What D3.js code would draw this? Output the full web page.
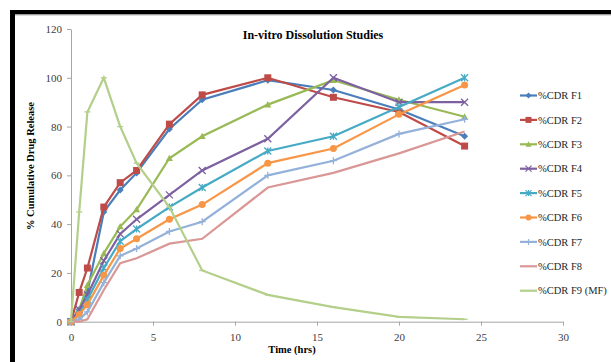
<!DOCTYPE html>
<html>
<head>
<meta charset="utf-8">
<script src="https://cdn.jsdelivr.net/npm/d3@7"></script>
<style>
body { margin: 0; background: #fff; }
svg { display: block; }
.axis path, .axis line { stroke: #a6a6a6; }
.axis text { fill: #404040; font-family: "Liberation Serif", "DejaVu Serif", serif; font-size: 11px; }
</style>
</head>
<body>
<div id="chart"></div>
<script>
var times = [0, 0.5, 1, 2, 3, 4, 6, 8, 12, 16, 20, 24];
var seriesNames = ["%CDR F1", "%CDR F2", "%CDR F3", "%CDR F4", "%CDR F5", "%CDR F6", "%CDR F7", "%CDR F8", "%CDR F9 (MF)"];
var f1 = [0, 5, 12, 45, 54, 61, 79, 91, 99, 95, 87, 76];
var f2 = [0, 12, 22, 47, 57, 62, 81, 93, 100, 92, 86, 72];
var f3 = [0, 5, 15, 28, 39, 46, 67, 76, 89, 99, 91, 84];
var f4 = [0, 5, 11, 25, 36, 42, 52, 62, 75, 100, 90, 90];
var f5 = [0, 3, 9, 22, 33, 38, 47, 55, 70, 76, 88, 100];
var f6 = [0, 3, 7, 19, 30, 34, 42, 48, 65, 71, 85, 97];
var f7 = [0, 1, 4, 16, 27, 30, 37, 41, 60, 66, 77, 83];
var f8 = [0, 0, 1, 13, 24, 26, 32, 34, 55, 61, 69, 78];
var f9 = [0, 45, 86, 100, 80, 65, 47, 21, 11, 6, 2, 1];
var xTicks = [0, 5, 10, 15, 20, 25, 30];
var yTicks = [0, 20, 40, 60, 80, 100, 120];

var colors = ["#4a7ebb", "#be4b48", "#98b954", "#7d60a0", "#46aac5", "#f79646", "#93b1d9", "#d99795", "#b3cf8a"];
var markers = ["diamond", "square", "triangle", "x", "star", "circle", "plus", "none", "dash"];
var values = [f1, f2, f3, f4, f5, f6, f7, f8, f9];

var width = 611, height = 362;
var margin = {top: 29, left: 71, right: 48, bottom: 40};

var svg = d3.select("#chart").append("svg")
    .attr("width", width)
    .attr("height", height);

// black frame (top + left)
svg.append("rect").attr("x", 10).attr("y", 10).attr("width", width - 10).attr("height", 4.5).attr("fill", "#000");
svg.append("rect").attr("x", 10).attr("y", 10).attr("width", 5).attr("height", height - 10).attr("fill", "#000");
svg.append("line").attr("x1", 15).attr("x2", width).attr("y1", 15).attr("y2", 15).attr("stroke", "#bbb");

var x = d3.scaleLinear().domain([0, 30]).range([71, 563]);
var y = d3.scaleLinear().domain([0, 120]).range([321.7, 29]);

svg.append("g")
    .attr("class", "axis")
    .attr("transform", "translate(0," + y(0) + ")")
    .call(d3.axisBottom(x).tickValues(xTicks).tickSize(4).tickPadding(8).tickSizeOuter(0));

svg.append("g")
    .attr("class", "axis")
    .attr("transform", "translate(" + x(0) + ",0)")
    .call(d3.axisLeft(y).tickValues(yTicks).tickSize(4).tickPadding(5).tickSizeOuter(0));

svg.append("text")
    .attr("x", 313)
    .attr("y", 39)
    .attr("text-anchor", "middle")
    .style("font-family", "Liberation Serif, serif")
    .style("font-weight", "bold")
    .style("font-size", "12px")
    .text("In-vitro Dissolution Studies");

svg.append("text")
    .attr("x", 292)
    .attr("y", 353)
    .attr("text-anchor", "middle")
    .style("font-family", "Liberation Serif, serif")
    .style("font-weight", "bold")
    .style("font-size", "10.5px")
    .text("Time (hrs)");

svg.append("text")
    .attr("transform", "translate(34,166) rotate(-90)")
    .attr("text-anchor", "middle")
    .style("font-family", "Liberation Serif, serif")
    .style("font-weight", "bold")
    .style("font-size", "10.5px")
    .text("% Cumulative Drug Release");

function markerPath(type, s) {
    switch (type) {
        case "diamond": return "M0," + (-s) + "L" + s + ",0L0," + s + "L" + (-s) + ",0Z";
        case "square": return "M" + (-s) + "," + (-s) + "h" + (2 * s) + "v" + (2 * s) + "h" + (-2 * s) + "Z";
        case "triangle": return "M0," + (-s) + "L" + s + "," + (s * 0.8) + "L" + (-s) + "," + (s * 0.8) + "Z";
        case "x": return "M" + (-s) + "," + (-s) + "L" + s + "," + s + "M" + (-s) + "," + s + "L" + s + "," + (-s);
        case "star": return "M" + (-s) + "," + (-s) + "L" + s + "," + s + "M" + (-s) + "," + s + "L" + s + "," + (-s) + "M0," + (-s) + "V" + s;
        case "plus": return "M" + (-s) + ",0H" + s + "M0," + (-s) + "V" + s;
        case "dash": return "M" + (-s) + ",0H" + s;
        default: return "";
    }
}

var line = d3.line()
    .x(function (d) { return x(d.t); })
    .y(function (d) { return y(d.v); });

values.forEach(function (vals, i) {
    var pts = times.map(function (t, j) { return {t: t, v: vals[j]}; });
    var g = svg.append("g");
    g.append("path")
        .datum(pts)
        .attr("d", line)
        .attr("fill", "none")
        .attr("stroke", colors[i])
        .attr("stroke-width", 2.2);
    var m = markers[i];
    if (m === "none") return;
    var filled = (m === "diamond" || m === "square" || m === "triangle" || m === "circle");
    var s = (m === "circle") ? 3.5 : (m === "dash" ? 3 : 3.5);
    g.selectAll(".mk")
        .data(pts)
        .enter().append(m === "circle" ? "circle" : "path")
        .each(function (d) {
            var el = d3.select(this);
            if (m === "circle") {
                el.attr("cx", x(d.t)).attr("cy", y(d.v)).attr("r", s).attr("fill", colors[i]);
            } else {
                el.attr("transform", "translate(" + x(d.t) + "," + y(d.v) + ")")
                    .attr("d", markerPath(m, s));
                if (filled) el.attr("fill", colors[i]);
                else el.attr("fill", "none").attr("stroke", colors[i]).attr("stroke-width", 1.3);
            }
        });
});

// legend
var legend = svg.selectAll(".legend")
    .data(seriesNames)
    .enter().append("g")
    .attr("class", "legend")
    .attr("transform", function (d, i) { return "translate(520," + (95.5 + i * 24.4) + ")"; });

legend.append("line")
    .attr("x1", 0).attr("x2", 17)
    .attr("stroke", function (d, i) { return colors[i]; })
    .attr("stroke-width", 2.2);

legend.each(function (d, i) {
    var m = markers[i];
    if (m === "none" || m === "dash") return;
    var g = d3.select(this);
    if (m === "circle") {
        g.append("circle").attr("cx", 8.5).attr("r", 3).attr("fill", colors[i]);
    } else {
        var filled = (m === "diamond" || m === "square" || m === "triangle");
        var p = g.append("path").attr("transform", "translate(8.5,0)").attr("d", markerPath(m, 3));
        if (filled) p.attr("fill", colors[i]);
        else p.attr("fill", "none").attr("stroke", colors[i]).attr("stroke-width", 1.2);
    }
});

legend.append("text")
    .attr("x", 18)
    .attr("y", 0)
    .attr("dy", ".35em")
    .style("font-family", "Liberation Serif, serif")
    .style("font-size", "10.5px")
    .style("fill", "#262626")
    .text(function (d) { return d; });
</script>
</body>
</html>
